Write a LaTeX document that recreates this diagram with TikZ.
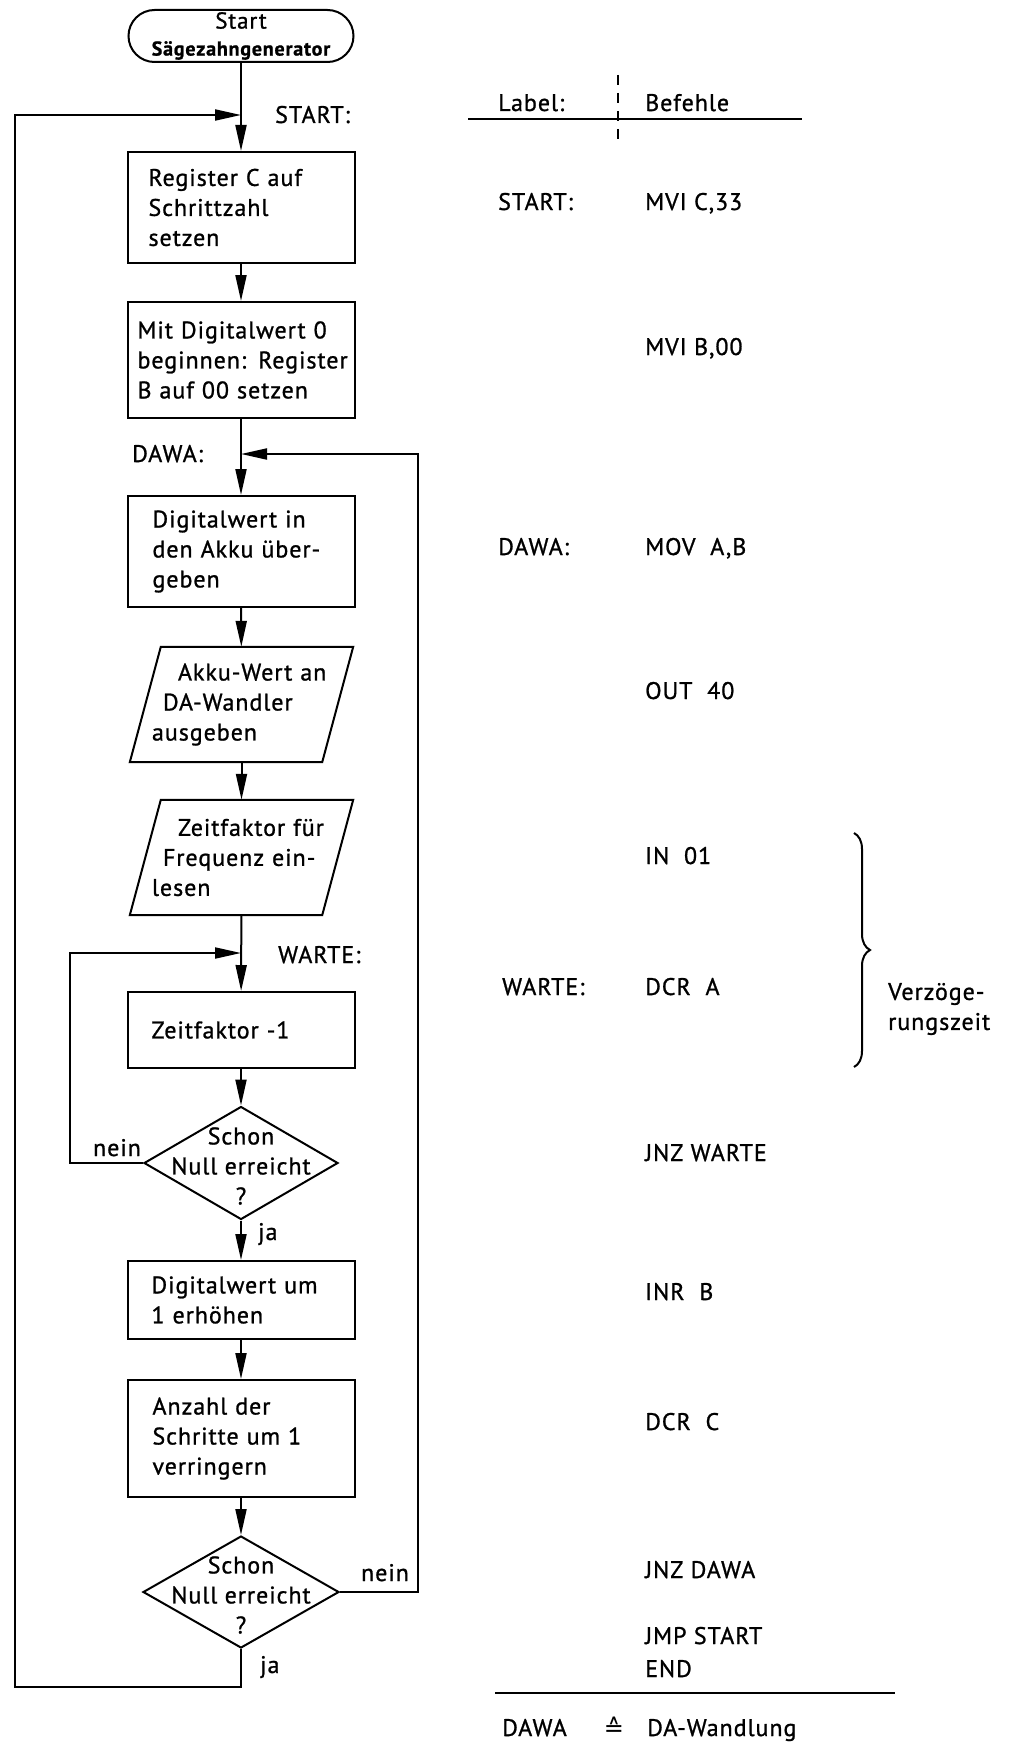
\documentclass[tikz,border=0pt]{standalone}
\usepackage{fontspec}
\setmainfont{PT Sans}[LetterSpace=4,FakeBold=1]
\newfontfamily\symfont{DejaVu Sans}
\usetikzlibrary{arrows.meta,decorations.pathreplacing,shapes.geometric}
\begin{document}
\begin{tikzpicture}[x=1pt,y=-1pt,
  every node/.style={font=\fontsize{24}{30}\selectfont},
  box/.style={draw, line width=2pt, rectangle, minimum width=227pt, align=left, inner ysep=0pt},
  para/.style={rectangle, minimum width=223pt, minimum height=115pt, inner sep=0pt, text width=179pt, align=left},
  dia/.style={draw, line width=2pt, diamond, inner sep=0pt},
  dtext/.style={align=center, inner sep=0pt},
  arr/.style={line width=2pt, -{Triangle[length=26pt,width=11pt]}},
  ln/.style={line width=2pt},
  code/.style={anchor=base west, inner sep=0pt},
  lab/.style={anchor=base west, inner sep=0pt},
]
\useasboundingbox (0,0) rectangle (1019,1742);

% ---------- flowchart ----------
\node[draw, line width=2pt, rounded corners=26pt, minimum width=225pt, minimum height=52pt, inner sep=0pt, align=center] (start) at (241,36)
  {{\fontsize{23}{23}\selectfont Start}\\[-3pt]{\fontsize{20}{20}\selectfont\bfseries Sägezahngenerator}};

\node[box, inner xsep=21pt, text width=185pt, minimum height=111pt] (b1) at (241,207.5)
  {Register C auf\\Schrittzahl\\setzen};
\node[box, inner xsep=10pt, text width=207pt, minimum height=116pt] (b2) at (241,360)
  {\mbox{Mit Digitalwert 0}\\\mbox{beginnen: Register}\\\mbox{B auf 00 setzen}};
\node[box, inner xsep=25pt, text width=177pt, minimum height=111pt] (b3) at (241,551.5)
  {Digitalwert in\\den Akku über-\\geben};
\node[para] (p1) at (241.5,704.5)
  {\hspace*{26pt}Akku-Wert an\\\hspace*{11pt}DA-Wandler\\ausgeben};
\node[para] (p2) at (241.5,857.5)
  {\hspace*{26pt}\mbox{Zeitfaktor für}\\\hspace*{11pt}\mbox{Frequenz ein-}\\lesen};
\draw[ln] ([xshift=31pt]p1.north west) -- (p1.north east) -- ([xshift=-31pt]p1.south east) -- (p1.south west) -- cycle;
\draw[ln] ([xshift=31pt]p2.north west) -- (p2.north east) -- ([xshift=-31pt]p2.south east) -- (p2.south west) -- cycle;

\node[box, inner xsep=24pt, text width=179pt, minimum height=76pt] (b4) at (241,1030)
  {Zeitfaktor -1};
\node[dia, minimum width=194pt, minimum height=113pt] (d1) at (241,1163) {};
\node[dtext] (d1t) at (241,1166) {Schon\\Null erreicht\\?};
\node[box, inner xsep=24pt, text width=179pt, minimum height=78pt] (b5) at (241,1300)
  {Digitalwert um\\1 erhöhen};
\node[box, inner xsep=25pt, text width=177pt, minimum height=117pt] (b6) at (241,1438.5)
  {Anzahl der\\Schritte um 1\\verringern};
\node[dia, minimum width=196pt, minimum height=112pt] (d2) at (241,1592) {};
\node[dtext] (d2t) at (241,1595) {Schon\\Null erreicht\\?};

% junctions and loop corners
\coordinate (jS) at (241,115);
\coordinate (jD) at (241,454);
\coordinate (jW) at (241,953);
\coordinate (k1) at (70,953);
\coordinate (k2) at (418,454);
\coordinate (k3) at (241,1687);
\coordinate (k4) at (15,115);

\draw[arr] (start) -- (b1);
\draw[arr] (b1) -- (b2);
\draw[arr] (b2) -- (b3);
\draw[arr] (b3) -- (p1);
\draw[arr] (p1) -- (p2);
\draw[arr] (p2) -- (b4);
\draw[arr] (b4) -- (d1);
\draw[arr] (d1) -- (b5);
\draw[arr] (b5) -- (b6);
\draw[arr] (b6) -- (d2);

\draw[arr] (d1.west) -| (k1) -- (jW);
\draw[arr] (d2.east) -| (k2) -- (jD);
\draw[arr] (d2.south) -- (k3) -| (k4) -- (jS);

% flowchart labels
\node[lab] (lS) at (275,123) {START:};
\node[lab] (lD) at (132,462) {DAWA:};
\node[lab] (lW) at (278,963) {WARTE:};
\node[anchor=base, inner sep=0pt] (n1) at (117,1156) {nein};
\node[lab] (j1) at (258,1240) {ja};
\node[anchor=base, inner sep=0pt] (n2) at (385,1581) {nein};
\node[lab] (j2) at (260,1673) {ja};

% ---------- program listing ----------
\node[code] (hL) at (498,111) {Label:};
\node[code] (hB) at (645,111) {Befehle};
\draw[ln] (468,119) -- (802,119);
\draw[ln, dash pattern=on 10pt off 8pt] (618,75) -- (618,143);

\node[code] (c1l) at (498,210) {START:};
\node[code] (c1) at (645,210) {MVI C,33};
\node[code] (c2) at (645,355) {MVI B,00};
\node[code] (c3l) at (498,555) {DAWA:};
\node[code] (c3) at (645,555) {MOV\ \ A,B};
\node[code] (c4) at (645,699) {OUT\ \ 40};
\node[code] (c5) at (645,864) {IN\ \ 01};
\node[code] (c6l) at (502,995) {WARTE:};
\node[code] (c6) at (645,995) {DCR\ \ A};
\node[code] (c7) at (645,1161) {JNZ WARTE};
\node[code] (c8) at (645,1300) {INR\ \ B};
\node[code] (c9) at (645,1430) {DCR\ \ C};
\node[code] (c10) at (645,1578) {JNZ DAWA};
\node[code] (c11) at (645,1644) {JMP START};
\node[code] (c12) at (645,1677) {END};

\draw[line width=2pt, decorate, decoration={brace, amplitude=16pt}] (854,833) -- (854,1067);
\node[align=left, anchor=west, inner sep=0pt] (vz) at (888,1009) {Verzöge-\\rungszeit};

\draw[ln] (495,1693) -- (895,1693);
\node[code] (f1) at (502,1736) {DAWA};
\node[anchor=base, inner sep=0pt] (f2) at (614,1736) {\symfont ≙};
\node[code] (f3) at (647,1736) {DA-Wandlung};
\end{tikzpicture}
\end{document}
